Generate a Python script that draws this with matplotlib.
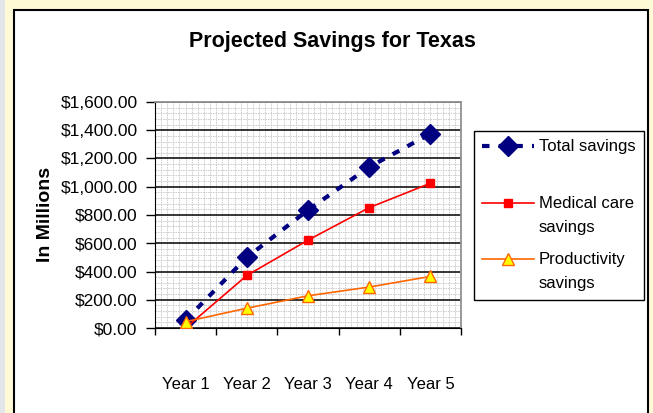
"""Projected savings for Texas: three savings series over five years."""

import matplotlib
matplotlib.use("Agg")
import matplotlib.pyplot as plt
from matplotlib.patches import Rectangle
from matplotlib.ticker import FuncFormatter, MultipleLocator

years = ["Year 1", "Year 2", "Year 3", "Year 4", "Year 5"]
total_savings = [55, 500, 835, 1140, 1375]
medical_savings = [0, 372, 622, 852, 1025]
productivity_savings = [45, 140, 228, 290, 365]
y_ticks = [0, 200, 400, 600, 800, 1000, 1200, 1400, 1600]

W, H = 653, 413
plt.rcParams["font.family"] = ["Liberation Sans", "DejaVu Sans"]


def money(v, _pos):
    return f"${v:,.2f}"


fig = plt.figure(figsize=(W / 100, H / 100), dpi=100)
fig.patch.set_facecolor("#FFFAD6")

# page background: grey strip on the left, white chart sheet with a border
fig.add_artist(Rectangle((0, 0), 5 / W, 1, transform=fig.transFigure,
                         facecolor="#E2E5E9", edgecolor="none", zorder=-10))
fig.add_artist(Rectangle((14 / W, -0.05), 634 / W, 1.05 - 10 / H,
                         transform=fig.transFigure, facecolor="white",
                         edgecolor="black", linewidth=1.5, zorder=-10))

ax = fig.add_axes([155 / W, 1 - 328 / H, 306 / W, 226 / H])
ax.set_facecolor("white")
x = list(range(len(years)))

ax.plot(x, total_savings, color="#000080", lw=3, ls=(0, (1.8, 2.2)),
        marker="D", ms=10.5, label="Total savings\n", zorder=3)
ax.plot(x, medical_savings, color="#FF0000", lw=1.2, marker="s", ms=6,
        label="Medical care\nsavings", zorder=4)
ax.plot(x, productivity_savings, color="#FF6600", lw=1.2, marker="^", ms=8,
        mfc="#FFFF00", mec="#FF6600", label="Productivity\nsavings", zorder=5)

ax.set_xlim(-0.5, len(years) - 0.5)
ax.set_ylim(y_ticks[0], y_ticks[-1])
ax.set_yticks(y_ticks)
ax.yaxis.set_major_formatter(FuncFormatter(money))
ax.yaxis.set_minor_locator(MultipleLocator(40))
ax.set_xticks([i - 0.5 for i in range(len(years) + 1)])
ax.set_xticklabels([])
ax.xaxis.set_minor_locator(MultipleLocator(0.1))
ax.xaxis.remove_overlapping_locs = False

ax.tick_params(axis="y", which="major", length=6.5, width=1, pad=6,
               labelsize=12.5)
ax.tick_params(axis="x", which="major", length=5, width=1)
ax.tick_params(which="minor", length=0)

ax.set_axisbelow(True)
ax.grid(which="minor", color="#C8C8C8", lw=0.6, ls=(0, (2, 1)))
ax.grid(axis="y", which="major", color="black", lw=1.1)

for side in ("left", "bottom"):
    ax.spines[side].set_color("black")
for side in ("top", "right"):
    ax.spines[side].set_color("#909090")
    ax.spines[side].set_linewidth(1.3)

# category names sit centred under each slot, well below the axis
sec = ax.secondary_xaxis("bottom")
sec.set_xticks(x, labels=years)
sec.tick_params(length=0, pad=35, labelsize=12)
sec.spines["bottom"].set_visible(False)

leg = ax.legend(loc="upper left", bbox_to_anchor=(474 / W, 1 - 131 / H),
                bbox_transform=fig.transFigure, fancybox=False,
                edgecolor="black", framealpha=1, borderaxespad=0,
                borderpad=0.5, handlelength=3.1, handletextpad=0.3,
                labelspacing=1.05, handleheight=1.2, fontsize=12)
leg.get_frame().set_linewidth(1.0)
for txt in leg.get_texts():
    txt.set_linespacing(1.75)
# line the marker up with the first line of each label, as the original does
for col in leg._legend_handle_box.get_children():
    for row in col.get_children():
        row.align = "top"

fig.text(332 / W, 1 - 42 / H, "Projected Savings for Texas", ha="center",
         va="center", fontsize=15.5, fontweight="bold")
fig.text(45 / W, 1 - 214 / H, "In Millions", rotation=90, ha="center",
         va="center", fontsize=14, fontweight="bold")

fig.savefig("out.png", dpi=100, facecolor=fig.get_facecolor())
